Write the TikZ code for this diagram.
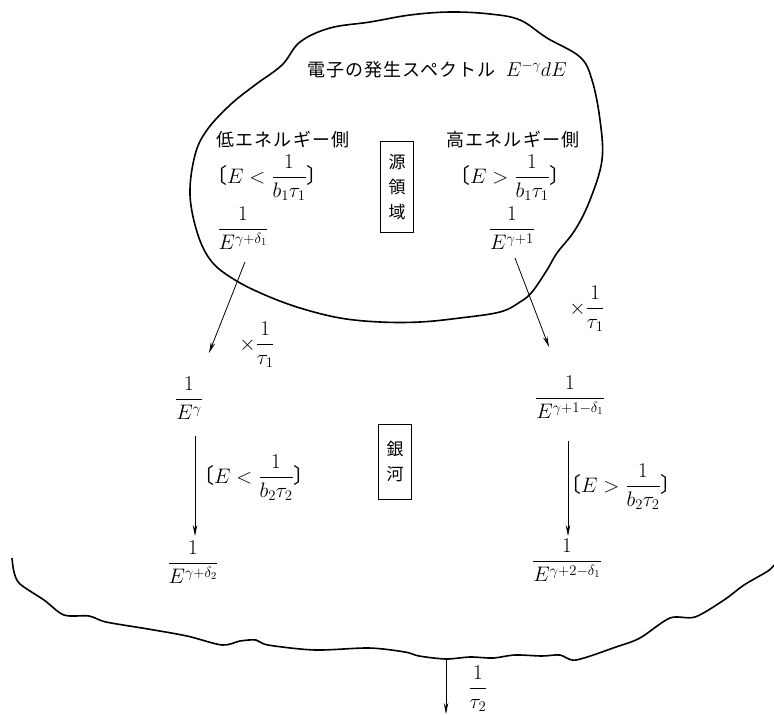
\RequirePackage{fix-cm}
\documentclass[tikz,border=0pt]{standalone}
\usepackage{amsmath}
\usepackage{fontspec}
\newfontfamily\jpf[LetterSpace=6]{Noto Sans CJK JP}
\newfontfamily\jpb{Noto Sans CJK JP}
\usetikzlibrary{arrows.meta}
\tikzset{
  jtext/.style={font=\jpf\fontsize{18}{20}\selectfont, inner sep=0pt},
  mth/.style={font=\fontsize{21}{25}\selectfont, inner sep=0pt},
  arr/.style={line width=0.8pt, -{Stealth[length=11pt,width=4.5pt]}},
  vbox/.style={draw, line width=1.6pt, align=center, inner sep=0pt,
    font=\jpb\fontsize{17}{25}\selectfont, minimum width=33pt},
  outline/.style={line width=1.6pt, line join=round}
}
\newcommand{\lbr}{{\jpb 〔}}
\newcommand{\rbr}{{\jpb 〕}}
\begin{document}
\begin{tikzpicture}[x=1pt,y=1pt]
\useasboundingbox (0,0) rectangle (774,-715);

% source region outline
\draw[outline] plot[smooth cycle, tension=0.6] coordinates {
 (282,-65) (300,-42) (330,-28) (370,-22) (410,-15) (450,-12) (490,-14) (520,-20)
 (547,-38) (580,-57) (592,-80) (600,-120) (602,-160) (590,-200) (575,-230)
 (557,-253) (547,-270) (532,-292) (520,-302) (500,-312) (460,-318) (420,-322)
 (380,-322) (340,-318) (300,-308) (265,-295) (235,-280) (212,-262) (198,-235)
 (190,-195) (195,-155) (207,-130) (230,-105) (255,-85)};

% galaxy boundary
\draw[outline] plot[smooth, tension=0.5] coordinates {
 (12,-558) (14,-572) (20,-584) (44,-600) (64,-615) (89,-616) (106,-622)
 (148,-629) (187,-636) (222,-645) (240,-641) (256,-640) (268,-645) (315,-650)
 (369,-648) (405,-652) (419,-656) (446,-659) (470,-657) (493,-658) (515,-655)
 (542,-656) (560,-655) (576,-660) (616,-647) (640,-638) (670,-618) (695,-617)
 (724,-600) (744,-585) (768,-571) (774,-565)};

% texts in source region
\node[jtext] (title) at (437,-70) {電子の発生スペクトル\ \ {\fontsize{20}{24}\selectfont$E^{-\gamma}dE$}};
\node[jtext] (lowlbl) at (283,-140) {低エネルギー側};
\node[jtext] (highlbl) at (513,-140) {高エネルギー側};
\node[mth] (lcond) at (267,-178) {\lbr$E<\dfrac{1}{b_1\tau_1}$\rbr};
\node[mth] (hcond) at (510,-178) {\lbr$E>\dfrac{1}{b_1\tau_1}$\rbr};
\node[mth] (lsrc) at (243,-228) {$\dfrac{1}{E^{\gamma+\delta_1}}$};
\node[mth] (hsrc) at (512,-228) {$\dfrac{1}{E^{\gamma+1}}$};
\node[vbox, minimum height=91pt] (srcbox) at (397,-187) {源\\領\\域};

% escape arrows from source
\coordinate (la1) at (245,-262);
\coordinate (la2) at (209,-353);
\coordinate (ra1) at (515,-258);
\coordinate (ra2) at (549,-347);
\draw[arr] (la1) -- (la2);
\draw[arr] (ra1) -- (ra2);
\node[mth] (lmul) at (257,-345) {$\times\dfrac{1}{\tau_1}$};
\node[mth] (rmul) at (587,-309) {$\times\dfrac{1}{\tau_1}$};

% galaxy
\node[mth] (lmid) at (189,-398) {$\dfrac{1}{E^{\gamma}}$};
\node[mth] (rmid) at (570,-397) {$\dfrac{1}{E^{\gamma+1-\delta_1}}$};
\node[vbox, minimum height=75pt] (galbox) at (395,-462) {銀\\河};

\coordinate (lv1) at (195,-436);
\coordinate (lv2) at (195,-536);
\coordinate (rv1) at (568,-441);
\coordinate (rv2) at (568,-536);
\draw[arr] (lv1) -- (lv2);
\draw[arr] (rv1) -- (rv2);
\node[mth] (lcond2) at (254,-478) {\lbr$E<\dfrac{1}{b_2\tau_2}$\rbr};
\node[mth] (rcond2) at (621,-487) {\lbr$E>\dfrac{1}{b_2\tau_2}$\rbr};

\node[mth] (lbot) at (193,-562) {$\dfrac{1}{E^{\gamma+\delta_2}}$};
\node[mth] (rbot) at (567,-560) {$\dfrac{1}{E^{\gamma+2-\delta_1}}$};

% escape from galaxy
\coordinate (e1) at (446,-660);
\coordinate (e2) at (446,-714);
\draw[arr] (e1) -- (e2);
\node[mth] (esc) at (478,-689) {$\dfrac{1}{\tau_2}$};
\end{tikzpicture}
\end{document}
